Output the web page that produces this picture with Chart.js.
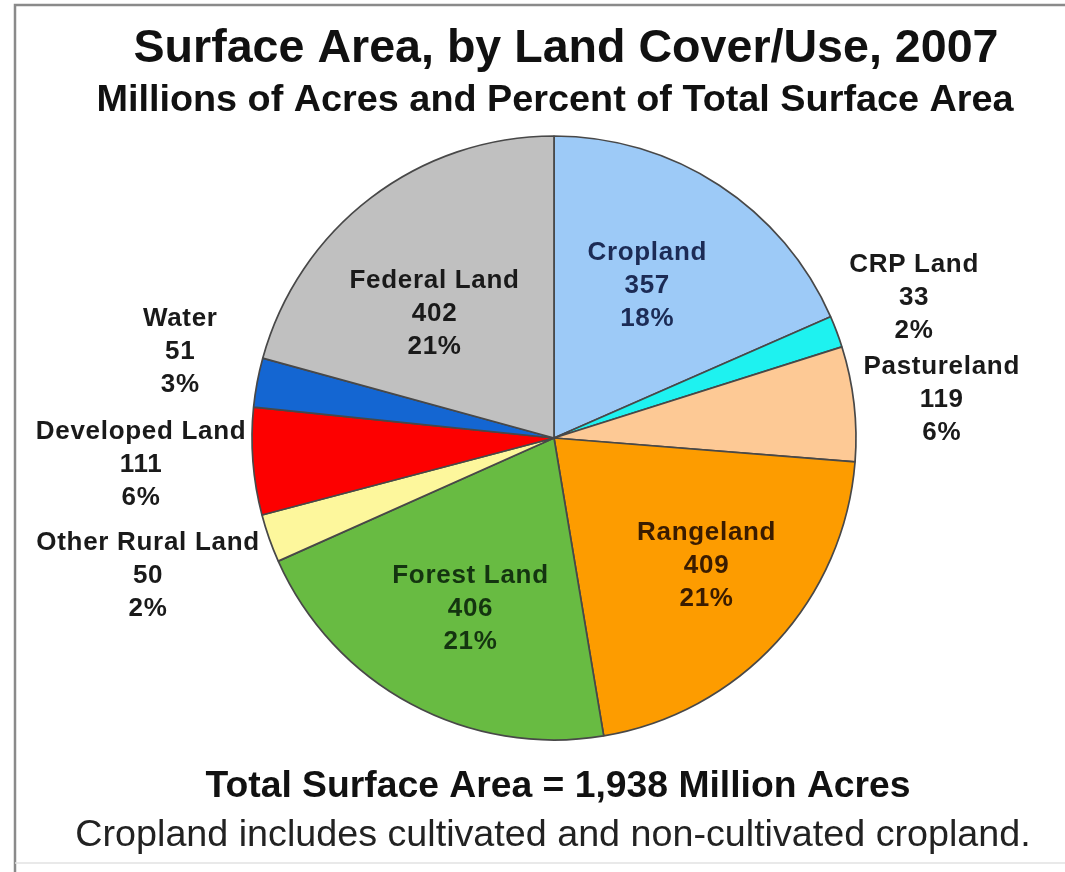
<!DOCTYPE html>
<html>
<head>
<meta charset="utf-8">
<script src="https://cdn.jsdelivr.net/npm/chart.js@4.4.0/dist/chart.umd.min.js"></script>
<style>
  html, body { margin: 0; padding: 0; background: #ffffff; }
  #wrap { width: 1065px; height: 872px; position: relative; }
</style>
</head>
<body>
<div id="wrap"><canvas id="c" width="1065" height="872"></canvas></div>
<script>
// ---- data ----
const categories = ['Cropland', 'CRP Land', 'Pastureland', 'Rangeland', 'Forest Land', 'Other Rural Land', 'Developed Land', 'Water', 'Federal Land'];
const acres = [357, 33, 119, 409, 406, 50, 111, 51, 402];
const percentLabels = ['18%', '2%', '6%', '21%', '21%', '2%', '6%', '3%', '21%'];
const titleText = 'Surface Area, by Land Cover/Use, 2007';
const subtitleText = 'Millions of Acres and Percent of Total Surface Area';
const totalText = 'Total Surface Area = 1,938 Million Acres';
const noteText = 'Cropland includes cultivated and non-cultivated cropland.';

// ---- styles ----
const sliceColors = ['#9dcaf7', '#1ef2f0', '#fdc995', '#fd9c00', '#68bb42', '#fdf79c', '#fd0000', '#1466d2', '#c0c0c0'];
const labelColors = ['#1c2b55', '#1a1a1a', '#1a1a1a', '#3a1c00', '#143410', '#1a1a1a', '#1a1a1a', '#1a1a1a', '#1a1a1a'];
const labelRadius = [0.59, 1.28, 1.29, 0.66, 0.63, 1.42, 1.37, 1.27, 0.57];
const labelAngleShift = [-1.6, -0.7, 0.9, -2.5, -2.2, 0.6, 0.8, 2.4, -6.6];

const FONT = '"Liberation Sans", Arial, Helvetica, sans-serif';

const decorPlugin = {
  id: 'decor',
  beforeDraw(chart) {
    const ctx = chart.ctx;
    ctx.save();
    ctx.fillStyle = '#ffffff';
    ctx.fillRect(0, 0, chart.width, chart.height);
    // frame
    ctx.strokeStyle = '#8a8a8a';
    ctx.lineWidth = 2.5;
    ctx.beginPath();
    ctx.moveTo(15, 872);
    ctx.lineTo(15, 5);
    ctx.lineTo(1065, 5);
    ctx.stroke();
    ctx.strokeStyle = '#e2e2e2';
    ctx.lineWidth = 1.5;
    ctx.beginPath();
    ctx.moveTo(15, 863);
    ctx.lineTo(1065, 863);
    ctx.stroke();
    // texts
    ctx.fillStyle = '#111111';
    ctx.textAlign = 'center';
    ctx.textBaseline = 'alphabetic';
    ctx.font = 'bold 46.6px ' + FONT;
    ctx.fillText(titleText, 566, 62);
    ctx.font = 'bold 37.8px ' + FONT;
    ctx.fillText(subtitleText, 555, 111);
    ctx.font = 'bold 37.3px ' + FONT;
    ctx.fillText(totalText, 558, 797);
    ctx.fillStyle = '#222222';
    ctx.font = '37.7px ' + FONT;
    ctx.fillText(noteText, 553, 846);
    ctx.restore();
  },
  afterDatasetsDraw(chart) {
    const ctx = chart.ctx;
    const meta = chart.getDatasetMeta(0);
    ctx.save();
    ctx.textAlign = 'center';
    ctx.textBaseline = 'middle';
    ctx.font = 'bold 26px ' + FONT;
    if ('letterSpacing' in ctx) ctx.letterSpacing = '0.7px';
    meta.data.forEach((arc, i) => {
      const p = arc.getProps(['x', 'y', 'startAngle', 'endAngle', 'outerRadius'], true);
      const mid = (p.startAngle + p.endAngle) / 2 + labelAngleShift[i] * Math.PI / 180;
      const r = p.outerRadius * labelRadius[i];
      const cx = p.x + Math.cos(mid) * r;
      const cy = p.y + Math.sin(mid) * r;
      const lines = [categories[i], String(acres[i]), percentLabels[i]];
      ctx.fillStyle = labelColors[i];
      lines.forEach((t, k) => ctx.fillText(t, cx, cy + (k - 1) * 33));
    });
    ctx.restore();
  }
};

new Chart(document.getElementById('c'), {
  type: 'pie',
  data: {
    labels: categories,
    datasets: [{
      data: acres,
      backgroundColor: sliceColors,
      borderColor: '#484848',
      borderWidth: 1.7,
      hoverOffset: 0,
      radius: 302
    }]
  },
  options: {
    responsive: false,
    animation: false,
    devicePixelRatio: 1,
    layout: { padding: { top: 136, bottom: 132, left: 60, right: 17 } },
    plugins: {
      legend: { display: false },
      title: { display: false },
      tooltip: { enabled: false }
    }
  },
  plugins: [decorPlugin]
});
</script>
</body>
</html>
